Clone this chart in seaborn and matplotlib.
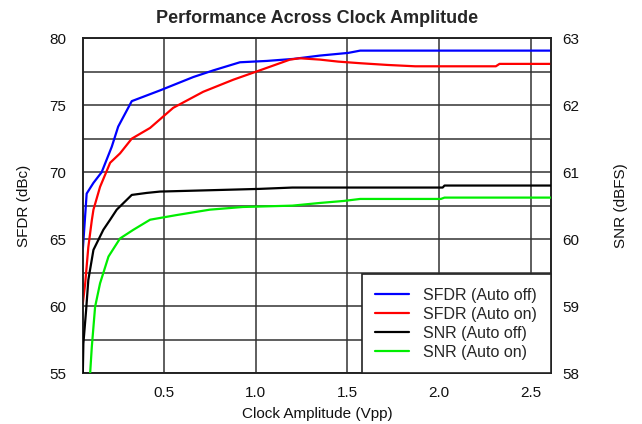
import matplotlib
matplotlib.use("Agg")
import matplotlib.pyplot as plt
import seaborn as sns
import numpy as np
import pandas as pd

# ---- data ----
sfdr_off_x = [0.057, 0.078, 0.115, 0.16, 0.215, 0.25, 0.324, 0.478, 0.66, 0.77, 0.914, 1.06, 1.205, 1.35, 1.505, 1.57, 2.0, 2.61]
sfdr_off_y = [64.2, 68.4, 69.2, 70.0, 71.9, 73.4, 75.3, 76.1, 77.1, 77.6, 78.2, 78.3, 78.45, 78.7, 78.9, 79.07, 79.07, 79.07]

sfdr_on_x = [0.057, 0.07, 0.087, 0.106, 0.115, 0.151, 0.206, 0.26, 0.324, 0.424, 0.55, 0.714, 0.878, 1.023, 1.187, 1.24, 1.35, 1.45, 1.57, 1.72, 1.87, 2.31, 2.33, 2.61]
sfdr_on_y = [60.2, 61.7, 64.4, 66.4, 67.2, 68.9, 70.7, 71.4, 72.5, 73.3, 74.8, 76.0, 76.9, 77.6, 78.4, 78.5, 78.4, 78.25, 78.13, 78.0, 77.9, 77.9, 78.08, 78.08]

snr_off_x = [0.057, 0.06, 0.075, 0.087, 0.115, 0.169, 0.206, 0.242, 0.324, 0.406, 0.478, 0.75, 1.02, 1.2, 2.02, 2.03, 2.61]
snr_off_y = [58.0, 58.44, 58.94, 59.39, 59.84, 60.14, 60.29, 60.44, 60.66, 60.69, 60.71, 60.73, 60.75, 60.77, 60.77, 60.80, 60.80]

snr_on_x = [0.097, 0.106, 0.124, 0.151, 0.197, 0.26, 0.333, 0.424, 0.57, 0.75, 0.93, 1.2, 1.35, 1.48, 1.57, 2.01, 2.03, 2.61]
snr_on_y = [58.0, 58.39, 58.99, 59.34, 59.74, 60.01, 60.14, 60.29, 60.36, 60.44, 60.48, 60.5, 60.54, 60.57, 60.6, 60.6, 60.62, 60.62]

x_ticks = [0.5, 1.0, 1.5, 2.0, 2.5]
left_ticks = [55, 60, 65, 70, 75, 80]
right_ticks = [58, 59, 60, 61, 62, 63]

labels = ["SFDR (Auto off)", "SFDR (Auto on)", "SNR (Auto off)", "SNR (Auto on)"]
colors = ["#0000ff", "#ff0000", "#000000", "#00ee00"]

sns.set_theme(style="white")
plt.rcParams["font.family"] = ["Liberation Sans", "DejaVu Sans"]

fig = plt.figure(figsize=(6.42, 4.24), dpi=100)
ax = fig.add_axes([0.129, 0.120, 0.729, 0.790])
ax2 = ax.twinx()

df_sfdr_off = pd.DataFrame({"x": sfdr_off_x, "y": sfdr_off_y})
df_sfdr_on = pd.DataFrame({"x": sfdr_on_x, "y": sfdr_on_y})
df_snr_off = pd.DataFrame({"x": snr_off_x, "y": snr_off_y})
df_snr_on = pd.DataFrame({"x": snr_on_x, "y": snr_on_y})

lw = 1.6
sns.lineplot(data=df_sfdr_off, x="x", y="y", ax=ax, color=colors[0], lw=lw, label=labels[0], legend=False, zorder=3, sort=False)
sns.lineplot(data=df_sfdr_on, x="x", y="y", ax=ax, color=colors[1], lw=lw, label=labels[1], legend=False, zorder=3, sort=False)
sns.lineplot(data=df_snr_off, x="x", y="y", ax=ax2, color=colors[2], lw=lw, label=labels[2], legend=False, zorder=3, sort=False)
sns.lineplot(data=df_snr_on, x="x", y="y", ax=ax2, color=colors[3], lw=lw, label=labels[3], legend=False, zorder=3, sort=False)

ax.set_xlim(0.057, 2.61)
ax.set_ylim(55, 80)
ax2.set_ylim(58, 63)

ax.set_xticks(x_ticks)
ax.set_xticklabels([f"{v:.1f}" for v in x_ticks])
ax.set_yticks(left_ticks)
ax.set_yticks(np.arange(57.5, 80, 5), minor=True)
ax2.set_yticks(right_ticks)

ax.grid(True, which="major", axis="both", color="#333333", lw=1.1)
ax.grid(True, which="minor", axis="y", color="#333333", lw=1.1)
ax.set_axisbelow(True)

for a in (ax, ax2):
    for s in a.spines.values():
        s.set_color("#222222")
        s.set_linewidth(1.2)

ax.tick_params(axis="both", which="both", length=0, labelsize=11, colors="#111111")
ax.tick_params(axis="y", pad=12)
ax.tick_params(axis="x", pad=9)
ax2.tick_params(axis="y", length=0, labelsize=11, pad=8, colors="#111111")

ax.set_xlabel("Clock Amplitude (Vpp)", fontsize=11, labelpad=5, color="#111111")
ax.set_ylabel("SFDR (dBc)", fontsize=11, labelpad=13, color="#111111")
ax2.set_ylabel("SNR (dBFS)", fontsize=11, labelpad=25, color="#111111", rotation=90)
ax.set_title("Performance Across Clock Amplitude", fontsize=13, fontweight="bold", pad=11)

handles = ax.get_lines()[:2] + ax2.get_lines()[:2]
leg = ax2.legend(handles, labels, loc="lower right", bbox_to_anchor=(1.0, 0.0),
                 borderaxespad=0, fancybox=False, framealpha=1, edgecolor="#222222",
                 fontsize=11.5, handlelength=2.1, handletextpad=0.9, labelspacing=0.25,
                 borderpad=0.85)
leg.get_frame().set_linewidth(1.2)

fig.savefig("out.png", dpi=100)
